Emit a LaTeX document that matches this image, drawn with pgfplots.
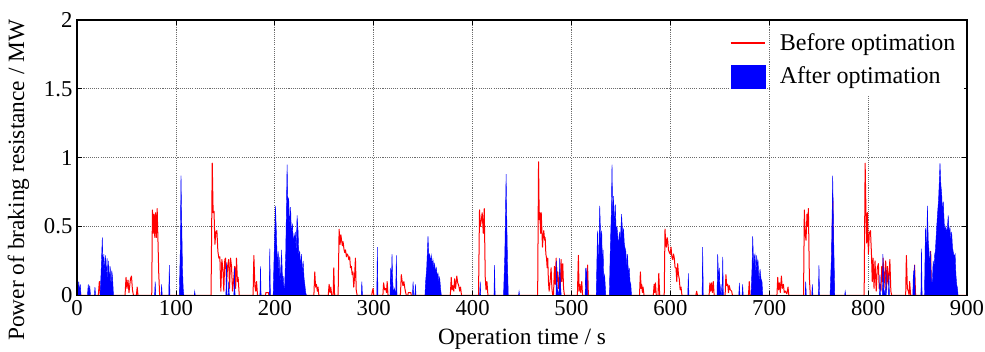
\documentclass[border=0pt]{standalone}
\usepackage{fontspec}
\setmainfont{Liberation Serif}
\usepackage{pgfplots}
\pgfplotsset{compat=1.18}
\begin{document}
\begin{tikzpicture}
\begin{axis}[
  scale only axis, width=666.75pt, height=206.25pt,
  xmin=0, xmax=900, ymin=0, ymax=2,
  xtick={0,100,...,900}, ytick={0,0.5,1,1.5,2},
  xticklabels={\textrm{0},\textrm{100},\textrm{200},\textrm{300},\textrm{400},\textrm{500},\textrm{600},\textrm{700},\textrm{800},\textrm{900}},
  yticklabels={\textrm{0},\textrm{0.5},\textrm{1},\textrm{1.5},\textrm{2}},
  tick align=inside, major tick length=3.5pt,
  tick style={black, line width=0.6pt},
  grid=major,
  major grid style={gray!85!black, line width=0.55pt, dash pattern=on 0.8pt off 0.8pt},
  axis line style={black, line width=1.1pt},
  ticklabel style={font=\fontsize{17}{20}\selectfont\rmfamily},
  xlabel={Operation time / s},
  ylabel={Power of braking resistance / MW},
  label style={font=\fontsize{17.5}{21}\selectfont},
  xlabel style={at={(axis description cs:0.5,-0.158)}, anchor=center},
  ylabel style={at={(axis description cs:-0.066,0.418)}, anchor=center},
  legend style={at={(rel axis cs:0.733,0.962)}, anchor=north west, draw=none, fill=none,
    font=\fontsize{18}{21}\selectfont, row sep=7pt, column sep=8pt, inner sep=0pt,
    nodes={inner sep=2pt}},
  legend cell align=left,
  clip=true,
]
\fill[white] (axis cs:701,1.455) rectangle (axis cs:897,1.993);
\addplot[red, line width=0.75pt, line join=round,
  legend image code/.code={\draw[red, line width=1.6pt] (0pt,0pt) -- (26pt,0pt);}]
coordinates {
(0,0.07)(0.7,0.05)(1.4,0.06)(2.2,0.01)(3,0.03)(3.8,0)
(21.5,0)(22.5,0.1)(23.5,0)
(48.5,0)(49.5,0.13)(50.5,0.05)(51.5,0.11)(52.5,0.02)(54,0.12)(55,0.14)(56,0.04)(57,0)
(60,0)(60.8,0.06)(61.6,0)
(75.5,0)(76.2,0.62)(77,0.45)(77.8,0.59)(78.6,0.42)(79.4,0.6)(80.2,0.42)(81,0.63)(81.8,0.4)(82.6,0.16)(83.5,0)
(135.5,0)(136.7,0.96)(137.6,0.6)(138.5,0.61)(139.4,0.37)(140.4,0.46)(141.4,0.47)(142.4,0.32)(143.4,0.27)(144.4,0.28)(145.4,0.03)(146.4,0.26)(147.4,0.2)(148.4,0.03)(149.4,0.26)(150.2,0.27)(151.2,0.08)(152.2,0.21)(153.3,0.26)(154.2,0.05)(155.2,0.27)(156.2,0.21)(157.2,0.03)(158.2,0.1)(159.4,0.21)(160.4,0.05)(161.2,0.27)(162.2,0.1)(162.9,0.13)(164,0)
(178,0)(178.8,0.29)(179.8,0.07)(180.7,0.03)(181.5,0.1)(182.5,0)
(190.5,0)(191,0.02)(193.5,0.02)(194,0)
(239.5,0)(240.4,0.17)(241.2,0.06)(242,0.08)(243,0.03)(243.7,0.06)(244.5,0)
(254,0)(254.9,0.08)(255.8,0.02)(256.6,0.06)(257.5,0)(259,0)(259.6,0.2)(260.4,0)
(264,0)(265,0.48)(266,0.37)(266.8,0.44)(267.5,0.4)(268.3,0.36)(269,0.39)(270,0.33)(270.7,0.31)(271.5,0.33)(272.4,0.28)(273.2,0.3)(274,0.29)(274.8,0.26)(275.7,0.28)(276.5,0.2)(277.4,0.21)(278.2,0.15)(279,0.17)(279.8,0.06)(280.6,0.13)(281.5,0.27)(282.3,0.04)(283.2,0)
(298,0)(298.6,0.03)(299.4,0.05)(300,0)
(309.3,0)(310,0.09)(311,0.04)(312,0.05)(313,0.02)(313.6,0.1)(314.5,0)
(327,0)(327.9,0.15)(328.8,0.1)(329.6,0.07)(330.5,0.1)(331.3,0.06)(332,0.03)(333,0)
(334.5,0)(335,0.02)(337.5,0.02)(338,0)
(377.5,0)(378.4,0.13)(379.2,0.04)(380,0.07)(381,0.03)(381.8,0.12)(382.8,0.05)(384,0.14)(385,0.09)(386,0.07)(387,0.03)(387.8,0.06)(388.8,0)
(406,0)(407,0.62)(407.8,0.5)(408.7,0.54)(409.7,0.6)(410.8,0.45)(411.8,0.63)(412.8,0.13)(413.6,0.04)(414.5,0.1)(415.5,0)
(465.8,0)(466.7,0.97)(467.4,0.55)(468,0.6)(468.8,0.45)(469.4,0.6)(470.7,0.35)(471.4,0.44)(472,0.47)(472.8,0.4)(473.4,0.42)(474.1,0.3)(474.8,0.27)(475.4,0.2)(476,0.27)(476.7,0.1)(477.4,0.03)(478.4,0.1)(479.4,0.2)(480.2,0.05)(481,0)
(481.8,0)(482.8,0.21)(483.6,0.08)(484.5,0.27)(485.4,0.1)(486.2,0.17)(487,0.05)(487.9,0.13)(488.7,0.04)(489.5,0.26)(490.3,0.1)(491.2,0.23)(492,0.05)(492.9,0)
(506,0)(507,0.29)(507.7,0.03)(508.4,0.08)(509.4,0.02)(510.4,0.1)(511.2,0)
(515.5,0)(516.3,0.22)(517.1,0)
(568.8,0)(569.7,0.17)(570.4,0.05)(571,0.08)(571.7,0.02)(572.4,0.06)(573.4,0)
(582.8,0)(583.6,0.08)(584.2,0.02)(584.9,0.09)(585.8,0)(587.5,0)(588.3,0.16)(589.2,0)
(593.8,0)(594.6,0.48)(595.3,0.38)(596,0.35)(596.7,0.42)(597.3,0.4)(598.1,0.33)(599,0.31)(599.8,0.3)(600.7,0.35)(601.5,0.28)(602.4,0.26)(603.2,0.3)(604,0.27)(604.8,0.2)(605.7,0.2)(606.5,0.1)(607.4,0.23)(608.2,0.15)(609,0.12)(609.9,0.04)(610.8,0.06)(611.7,0)
(625.8,0)(626.6,0.03)(627.4,0)
(639.2,0)(640,0.09)(640.8,0.03)(641.7,0.09)(642.5,0.02)(643.4,0.1)(644.3,0)
(655.4,0)(656.2,0.15)(657,0.07)(658,0.08)(658.8,0.02)(659.6,0.07)(660.6,0.04)(662,0.03)(662.8,0)
(679,0)(679.8,0.1)(680.6,0)
(707.8,0)(708.6,0.13)(709.4,0.04)(710.3,0.09)(711.2,0.02)(712.3,0.14)(713.2,0.05)(714.3,0.08)(715.2,0.02)(716.3,0.03)(717.8,0.01)(719,0.06)(719.8,0)
(734.7,0)(735.5,0.62)(736.3,0.45)(737.2,0.4)(738.2,0.59)(738.9,0.5)(739.6,0.63)(740.6,0.13)(741.5,0)
(763.2,0)(764.2,0.71)(765.2,0)
(796,0)(797,0.96)(797.8,0.62)(798.6,0.38)(799.4,0.6)(800.3,0.3)(801.2,0.45)(802.4,0.47)(803.4,0.3)(804.2,0.1)(805,0.27)(806,0.05)(807,0.25)(808.2,0.03)(809.3,0.2)(810.4,0.23)(811.2,0.05)(812,0.08)(813,0.03)(813.8,0.21)(814.6,0.1)(815.2,0.27)(816,0.05)(816.8,0.15)(817.8,0.25)(818.6,0.04)(819.5,0.21)(820.5,0.08)(821.2,0.15)(822,0.26)(823,0.03)(823.8,0)
(838,0)(838.7,0.29)(839.7,0.05)(840.7,0.03)(841.5,0)(842,0.1)(843,0)
(846.2,0)(847,0.22)(848,0)
(862.5,0)(863.3,0.32)(864,0)(900,0)
};
\addlegendentry{Before optimation}
\addplot[fill=blue, draw=blue, line width=0.3pt,
  legend image code/.code={\fill[blue] (0pt,-8.6pt) rectangle (25.5pt,8.6pt);}]
coordinates {
(0,0)(1,0.04)(1.7,0.1)(2.4,0.02)(3.2,0.08)(4,0)
(10.5,0)(11.3,0.08)(12,0.02)(12.8,0.07)(13.6,0)
(17.5,0)(18.1,0.06)(18.7,0)
(23.2,0)(24.2,0.15)(25.5,0.42)(26.3,0.2)(27.1,0.3)(27.9,0.16)(28.7,0.29)(29.5,0.12)(30.3,0.27)(31.1,0.1)(31.9,0.25)(32.7,0.08)(33.5,0.21)(34.3,0.06)(35.1,0.18)(35.9,0.13)(36.8,0)
(78.4,0)(79,0.1)(79.6,0)
(84.9,0)(85.5,0.08)(86.1,0)
(92.7,0)(93.3,0.22)(93.9,0)
(103.4,0)(104.3,0.3)(105.1,0.87)(105.8,0.55)(106.6,0.2)(107.3,0.05)(108,0)
(118.5,0)(119,0.03)(119.5,0)
(150.5,0)(151.1,0.24)(151.7,0)(152.8,0)(153.4,0.1)(154,0)(158.6,0)(159.2,0.2)(159.8,0)
(184.9,0)(185.5,0.21)(186.1,0)
(194.3,0)(194.9,0.34)(195.5,0)
(198.3,0)(199.3,0.3)(200.7,0.65)(201.7,0.42)(202.7,0.2)(203.4,0.32)(204.4,0.1)(205,0.28)(206,0.05)(206.8,0.33)(207.8,0.1)(208.4,0.14)(209.3,0.04)(210,0.08)(211,0.3)(212.4,0.95)(213.4,0.6)(214,0.71)(215,0.5)(216,0.64)(216.7,0.45)(217.8,0.52)(218.8,0.35)(219.5,0.45)(220.2,0.38)(220.8,0.46)(221.5,0.3)(222.5,0.58)(223.5,0.47)(224.2,0.3)(225.2,0.32)(226.2,0.2)(226.9,0.3)(227.8,0.15)(228.6,0.25)(229.6,0.12)(230.3,0.08)(231.2,0.02)(232,0)
(287.4,0)(288,0.1)(288.6,0)
(303.1,0)(303.7,0.35)(304.3,0)
(316.5,0)(317.2,0.2)(317.8,0.05)(318.5,0.3)(319.2,0.1)(320,0.02)(321,0.05)(322.2,0)(322.9,0.29)(323.6,0)
(339.2,0)(339.8,0.1)(340.5,0)(341.6,0)(342.2,0.08)(342.8,0)
(351.8,0)(352.5,0.1)(353.6,0.2)(354.9,0.43)(355.8,0.28)(356.6,0.3)(357.4,0.24)(358.2,0.29)(359.1,0.22)(359.9,0.26)(360.8,0.2)(361.6,0.23)(362.5,0.17)(363.3,0.2)(364.2,0.14)(365,0.16)(365.8,0.1)(366.7,0.13)(367.6,0.05)(368.4,0)
(407.1,0)(407.7,0.1)(408.3,0)
(421.6,0)(422.2,0.22)(422.8,0)
(431.3,0)(432.6,0.3)(433.9,0.88)(434.7,0.5)(435.4,0.2)(436.1,0)
(446.5,0)(447,0.03)(447.5,0)
(484.3,0)(485,0.25)(485.7,0.05)(487.4,0)(488.1,0.27)(488.8,0.1)(489.6,0)
(513.8,0)(514.4,0.2)(515,0.05)(515.5,0.2)(516.1,0)
(525,0)(525.6,0.2)(526.3,0.47)(527,0.25)(527.6,0.3)(528.6,0.65)(529.6,0.4)(530.6,0.47)(531.3,0.2)(532,0.33)(532.6,0.12)(533.2,0.15)(533.7,0.13)(534.7,0)
(538.3,0)(539.3,0.35)(540.3,0.6)(541,0.95)(541.6,0.62)(542,0.6)(542.6,0.72)(543.3,0.5)(544.3,0.66)(545.3,0.45)(546,0.5)(546.6,0.45)(547.7,0.35)(548.4,0.46)(549.4,0.4)(550.7,0.59)(551.7,0.45)(552.7,0.48)(553.4,0.38)(554,0.35)(555,0.32)(556,0.2)(556.7,0.3)(557.6,0.15)(558.4,0.2)(559.2,0.1)(560,0.08)(560.7,0)
(617.6,0)(618.2,0.16)(618.8,0)
(632.1,0)(632.7,0.35)(633.3,0)
(647.2,0)(647.9,0.3)(648.9,0.1)(649.6,0.2)(650.3,0)(650.7,0)(651.3,0.08)(651.9,0)(652.4,0)(653,0.28)(653.6,0)
(669.2,0)(669.8,0.09)(670.4,0)(672.5,0)(673.1,0.08)(673.7,0)
(681.6,0)(682.6,0.2)(683.3,0.43)(684.3,0.2)(685,0.28)(685.6,0.3)(686.6,0.15)(687.3,0.29)(688,0.2)(688.6,0.26)(689.7,0.1)(690.7,0.19)(691.7,0.12)(692.7,0.1)(693.4,0)
(736.3,0)(736.9,0.1)(737.5,0)
(743,0)(743.6,0.08)(744.2,0)
(749.7,0)(750.3,0.22)(750.9,0)
(761.5,0)(763,0.3)(764.2,0.87)(765.2,0.4)(766.3,0)
(776.3,0)(776.8,0.03)(777.3,0)
(811.4,0)(812,0.15)(812.6,0)(814.4,0)(815,0.3)(815.8,0.05)(817.4,0)(818,0.2)(818.6,0)(820.4,0)(821,0.15)(821.6,0)
(845.2,0)(845.8,0.18)(846.4,0.05)(847,0.22)(847.6,0)
(853.4,0)(854,0.34)(854.6,0)
(857,0)(858,0.49)(859,0.3)(860,0.65)(860.8,0.4)(861.6,0.32)(862.3,0.2)(863,0.32)(864,0.1)(865,0.1)(865.8,0.25)(866.7,0.2)(867.4,0.3)(868,0.32)(869,0.45)(870,0.57)(871.3,0.7)(872.7,0.96)(873.6,0.8)(874.4,0.74)(875.2,0.6)(876,0.68)(877,0.52)(877.8,0.47)(878.6,0.5)(879.5,0.45)(880.3,0.5)(881,0.58)(882,0.45)(882.8,0.49)(883.6,0.4)(884.5,0.46)(885.3,0.35)(886,0.32)(887,0.28)(888,0.3)(888.8,0.15)(889.6,0.08)(890.4,0.05)(891,0)(900,0)
} \closedcycle;
\addlegendentry{After optimation}
\draw[black, line width=1.1pt] (rel axis cs:0,0) rectangle (rel axis cs:1,1);
\end{axis}
\pgfresetboundingbox
\path ([shift={(-57.75pt,-42pt)}]current axis.south west) rectangle ([shift={(13.5pt,15pt)}]current axis.north east);
\end{tikzpicture}
\end{document}
